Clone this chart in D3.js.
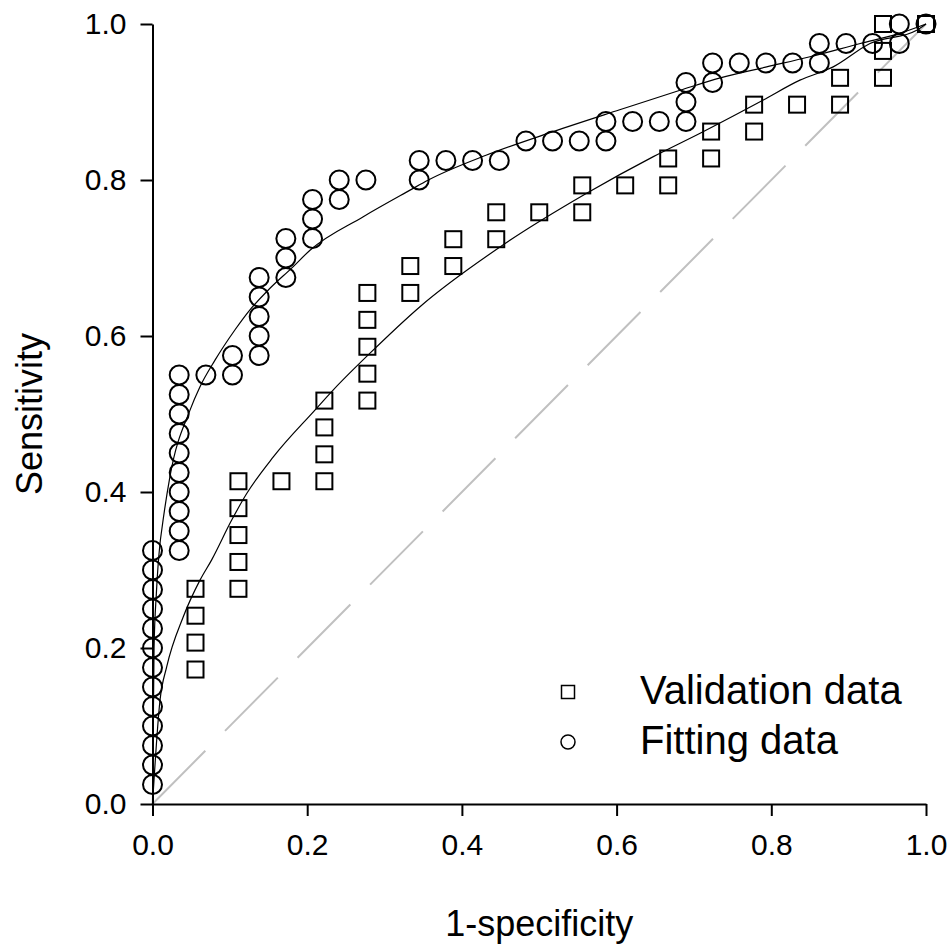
<!DOCTYPE html>
<html>
<head>
<meta charset="utf-8">
<script src="https://cdn.jsdelivr.net/npm/d3@7"></script>
<style>
  body { margin: 0; background: #fff; }
  text { font-family: "Liberation Sans", Arial, sans-serif; }
</style>
</head>
<body>
<div id="chart"></div>
<script>
let width = 951,
    height = 944,
    margin = ({ top: 24, right: 25, bottom: 140, left: 152.5 });

// fitting data (circles): 1-specificity, sensitivity
const fitX = [0, 0, 0, 0, 0, 0, 0, 0, 0, 0, 0, 0, 0,
  0.0345, 0.0345, 0.0345, 0.0345, 0.0345, 0.0345, 0.0345, 0.0345, 0.0345, 0.0345,
  0.069, 0.1034, 0.1034,
  0.1379, 0.1379, 0.1379, 0.1379, 0.1379,
  0.1724, 0.1724, 0.1724, 0.2069, 0.2069, 0.2069,
  0.2414, 0.2414, 0.2759, 0.3448, 0.3448,
  0.3793, 0.4138, 0.4483, 0.4828, 0.5172, 0.5517, 0.5862, 0.5862,
  0.6207, 0.6552, 0.6897, 0.6897, 0.6897, 0.7241, 0.7241,
  0.7586, 0.7931, 0.8276, 0.8621, 0.8621, 0.8966, 0.931, 0.9655, 0.9655, 1.0];
const fitY = [0.025, 0.05, 0.075, 0.1, 0.125, 0.15, 0.175, 0.2, 0.225, 0.25, 0.275, 0.3, 0.325,
  0.325, 0.35, 0.375, 0.4, 0.425, 0.45, 0.475, 0.5, 0.525, 0.55,
  0.55, 0.55, 0.575,
  0.575, 0.6, 0.625, 0.65, 0.675,
  0.675, 0.7, 0.725, 0.725, 0.75, 0.775,
  0.775, 0.8, 0.8, 0.8, 0.825,
  0.825, 0.825, 0.825, 0.85, 0.85, 0.85, 0.85, 0.875,
  0.875, 0.875, 0.875, 0.9, 0.925, 0.925, 0.95,
  0.95, 0.95, 0.95, 0.95, 0.975, 0.975, 0.975, 0.975, 1.0, 1.0];

// validation data (squares)
const valX = [0.0556, 0.0556, 0.0556, 0.0556,
  0.1111, 0.1111, 0.1111, 0.1111, 0.1111,
  0.1667, 0.2222, 0.2222, 0.2222, 0.2222,
  0.2778, 0.2778, 0.2778, 0.2778, 0.2778,
  0.3333, 0.3333, 0.3889, 0.3889, 0.4444, 0.4444, 0.5, 0.5556, 0.5556,
  0.6111, 0.6667, 0.6667, 0.7222, 0.7222, 0.7778, 0.7778, 0.8333,
  0.8889, 0.8889, 0.9444, 0.9444, 0.9444, 1.0];
const valY = [0.1724, 0.2069, 0.2414, 0.2759,
  0.2759, 0.3103, 0.3448, 0.3793, 0.4138,
  0.4138, 0.4138, 0.4483, 0.4828, 0.5172,
  0.5172, 0.5517, 0.5862, 0.6207, 0.6552,
  0.6552, 0.6897, 0.6897, 0.7241, 0.7241, 0.7586, 0.7586, 0.7586, 0.7931,
  0.7931, 0.7931, 0.8276, 0.8276, 0.8621, 0.8621, 0.8966, 0.8966,
  0.8966, 0.931, 0.931, 0.9655, 1.0, 1.0];

// fitted curves
const fitCurveX = [0, 0.002, 0.005, 0.0097, 0.0119, 0.0226, 0.0485, 0.0614, 0.0808, 0.1067, 0.1239,
  0.1497, 0.182, 0.2036, 0.2725, 0.333, 0.3566, 0.432, 0.518, 0.604, 0.682, 0.734,
  0.794, 0.85, 0.915, 0.966, 1.0];
const fitCurveY = [0, 0.2, 0.27, 0.334, 0.351, 0.42, 0.505, 0.535, 0.569, 0.608, 0.631,
  0.659, 0.689, 0.71, 0.753, 0.787, 0.8, 0.832, 0.862, 0.89, 0.915, 0.931,
  0.945, 0.958, 0.975, 0.988, 1.0];
const valCurveX = [0, 0.0097, 0.0184, 0.0398, 0.0614, 0.0765, 0.1024, 0.1218, 0.1562, 0.21,
  0.2338, 0.2812, 0.3458, 0.4535, 0.5613, 0.6475, 0.708, 0.7897, 0.837, 0.88, 0.9276, 0.988, 1.0];
const valCurveY = [0, 0.133, 0.176, 0.24, 0.287, 0.313, 0.364, 0.398, 0.445, 0.505,
  0.531, 0.578, 0.6376, 0.717, 0.783, 0.83, 0.86, 0.9026, 0.928, 0.945, 0.975, 0.992, 1.0];

const ticks = [0, 0.2, 0.4, 0.6, 0.8, 1.0];
const legendLabels = ["Validation data", "Fitting data"];

const svg = d3.select("#chart")
  .append("svg")
  .attr("width", width)
  .attr("height", height);

let x = d3.scaleLinear().domain([0, 1]).range([margin.left, width - margin.right]);
let y = d3.scaleLinear().domain([0, 1]).range([height - margin.bottom, margin.top]);

// reference diagonal
svg.append("line")
  .attr("x1", x(0)).attr("y1", y(0))
  .attr("x2", x(1)).attr("y2", y(1))
  .attr("stroke", "#c0c0c0")
  .attr("stroke-width", 2)
  .attr("stroke-dasharray", "75,28");

const line = d3.line().x(d => x(d[0])).y(d => y(d[1])).curve(d3.curveMonotoneX);

svg.append("path")
  .datum(d3.zip(fitCurveX, fitCurveY))
  .attr("d", line)
  .attr("fill", "none")
  .attr("stroke", "black")
  .attr("stroke-width", 1.2);

svg.append("path")
  .datum(d3.zip(valCurveX, valCurveY))
  .attr("d", line)
  .attr("fill", "none")
  .attr("stroke", "black")
  .attr("stroke-width", 1.2);

// axes
const xAxis = svg.append("g")
  .attr("transform", `translate(0,${y(0)})`)
  .call(d3.axisBottom(x).tickValues(ticks).tickFormat(d3.format(".1f"))
    .tickSize(12).tickSizeOuter(0).tickPadding(18));

const yAxis = svg.append("g")
  .attr("transform", `translate(${x(0)},0)`)
  .call(d3.axisLeft(y).tickValues(ticks).tickFormat(d3.format(".1f"))
    .tickSize(12).tickSizeOuter(0).tickPadding(14));

[xAxis, yAxis].forEach(g => {
  g.selectAll("path, line").attr("stroke", "black").attr("stroke-width", 2);
  g.selectAll("text").attr("font-size", "30px").attr("fill", "black")
    .attr("font-family", "'Liberation Sans', Arial, sans-serif");
});

// markers
const sq = 16;
svg.append("g")
  .selectAll("rect")
  .data(d3.zip(valX, valY))
  .join("rect")
  .attr("x", d => x(d[0]) - sq / 2)
  .attr("y", d => y(d[1]) - sq / 2)
  .attr("width", sq)
  .attr("height", sq)
  .attr("fill", "none")
  .attr("stroke", "black")
  .attr("stroke-width", 2);

svg.append("g")
  .selectAll("circle")
  .data(d3.zip(fitX, fitY))
  .join("circle")
  .attr("cx", d => x(d[0]))
  .attr("cy", d => y(d[1]))
  .attr("r", 9.5)
  .attr("fill", "none")
  .attr("stroke", "black")
  .attr("stroke-width", 2);

// axis titles
svg.append("text")
  .attr("x", x(0.5))
  .attr("y", 936)
  .attr("text-anchor", "middle")
  .attr("font-size", "36px")
  .text("1-specificity");

svg.append("text")
  .attr("transform", `translate(42,${y(0.5)}) rotate(-90)`)
  .attr("text-anchor", "middle")
  .attr("font-size", "36px")
  .text("Sensitivity");

// legend
svg.append("rect")
  .attr("x", 568 - 6.5).attr("y", 692 - 6.5)
  .attr("width", 13).attr("height", 13)
  .attr("fill", "none").attr("stroke", "black").attr("stroke-width", 1.5);
svg.append("circle")
  .attr("cx", 568).attr("cy", 742).attr("r", 7)
  .attr("fill", "none").attr("stroke", "black").attr("stroke-width", 1.5);

svg.selectAll(".legend-text")
  .data(legendLabels)
  .join("text")
  .attr("class", "legend-text")
  .attr("x", 640)
  .attr("y", (d, i) => 704 + i * 50)
  .attr("font-size", "40px")
  .text(d => d);
</script>
</body>
</html>
